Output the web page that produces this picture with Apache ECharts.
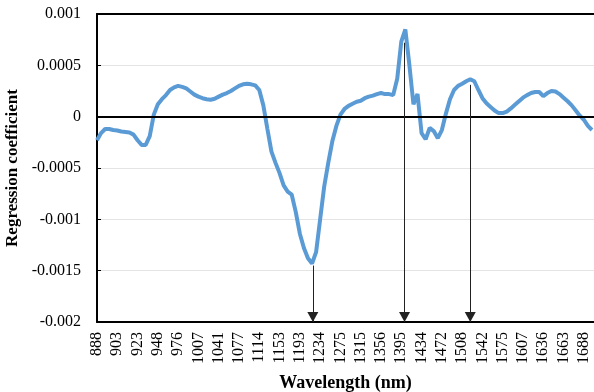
<!DOCTYPE html>
<html>
<head>
<meta charset="utf-8">
<script src="https://cdn.jsdelivr.net/npm/echarts@6/dist/echarts.min.js"></script>
<style>
  html, body { margin: 0; padding: 0; background: #fff; }
  #chart { width: 594px; height: 392px; }
</style>
</head>
<body>
<div id="chart"></div>
<script>
// Wavelength labels shown under every fifth spectral sample
const tickLabels = ['888', '903', '923', '948', '976', '1007', '1041', '1077', '1114',
  '1153', '1193', '1234', '1275', '1315', '1356', '1395', '1434', '1472', '1508',
  '1542', '1575', '1607', '1636', '1663', '1688'];
const samplesPerTick = 5;

// Regression coefficients, one per spectral sample
const coefficients = [
  -0.00023, -0.00016, -0.00012, -0.00012, -0.00013, -0.000135, -0.000145, -0.00015, -0.000155, -0.000175,
  -0.00023, -0.000275, -0.000275, -0.00019, 0.00002, 0.00012, 0.00017, 0.00021, 0.00026, 0.000285,
  0.0003, 0.00029, 0.000275, 0.000245, 0.000215, 0.000195, 0.00018, 0.00017, 0.000165, 0.000175,
  0.000195, 0.000215, 0.00023, 0.00025, 0.000275, 0.0003, 0.000315, 0.00032, 0.000315, 0.000305,
  0.00026, 0.00011, -0.00012, -0.00034, -0.00045, -0.00055, -0.00067, -0.00073, -0.00076, -0.00093,
  -0.00114, -0.00128, -0.00138, -0.00143, -0.00132, -0.001, -0.00068, -0.00045, -0.00024, -0.00009,
  0.00002, 0.000075, 0.000105, 0.000125, 0.000145, 0.000155, 0.00018, 0.000195, 0.000205, 0.00022,
  0.00023, 0.00022, 0.00022, 0.00021, 0.00037, 0.00073, 0.00085, 0.0005, 0.00012, 0.00022,
  -0.00016, -0.00022, -0.00011, -0.00014, -0.00021, -0.00013, 0.00003, 0.00017, 0.00026, 0.0003,
  0.00032, 0.000345, 0.000365, 0.000345, 0.00026, 0.00018, 0.00013, 0.000095, 0.00006, 0.000035,
  0.000035, 0.00005, 0.00008, 0.000115, 0.00015, 0.000185, 0.00021, 0.00023, 0.00024, 0.00024,
  0.0002, 0.00023, 0.00025, 0.000245, 0.00022, 0.000185, 0.00015, 0.00011, 0.00006, 0.00001,
  -0.00003, -0.00009, -0.00013
];

// Selected wavelengths marked by arrows: sample position and coefficient where the arrow starts
const arrowSample = [53.2, 75.8, 92.0];
const arrowStart = [-0.00145, 0.00072, 0.00031];

const yMin = -0.002, yMax = 0.001, yStep = 0.0005;
const lastSample = 122.5;

const font = 'Liberation Serif';
const chart = echarts.init(document.getElementById('chart'), null, { renderer: 'canvas' });

// Baseline at zero across the whole plot
const zeroLine = [
  { coord: [0, 0], symbol: 'none', lineStyle: { color: '#000', width: 2, type: 'solid' } },
  { coord: [lastSample, 0], symbol: 'none' }
];

// Downward arrows from the curve to the wavelength axis
const arrowLines = arrowSample.map((s, k) => [
  { coord: [s, arrowStart[k]], symbol: 'none' },
  { coord: [s, yMin], symbol: 'triangle', symbolSize: [11, 10], symbolOffset: [0, 5] }
]);

chart.setOption({
  animation: false,
  backgroundColor: '#fff',
  grid: { left: 97, right: 0, top: 14, bottom: 70, containLabel: false, outerBoundsMode: 'none' },
  xAxis: [{
    type: 'value',
    min: 0,
    max: lastSample,
    interval: samplesPerTick,
    position: 'bottom',
    name: 'Wavelength (nm)',
    nameLocation: 'middle',
    nameGap: 52,
    nameTextStyle: { fontFamily: font, fontSize: 18, fontWeight: 'bold', color: '#000' },
    axisLine: { onZero: false, lineStyle: { color: '#000', width: 2 } },
    axisTick: { show: false },
    splitLine: { show: false },
    axisLabel: {
      rotate: 90,
      margin: 10,
      fontFamily: font,
      fontSize: 16,
      color: '#000',
      showMaxLabel: true,
      formatter: v => {
        const k = v / samplesPerTick;
        return Number.isInteger(k) && k < tickLabels.length ? tickLabels[k] : '';
      }
    }
  }, {
    type: 'value',
    min: 0,
    max: lastSample,
    position: 'top',
    axisLine: { onZero: false, lineStyle: { color: '#000', width: 2 } },
    axisTick: { show: false },
    axisLabel: { show: false },
    splitLine: { show: false }
  }],
  yAxis: {
    type: 'value',
    min: yMin,
    max: yMax,
    interval: yStep,
    name: 'Regression coefficient',
    nameLocation: 'middle',
    nameGap: 71,
    nameTextStyle: { fontFamily: font, fontSize: 17, fontWeight: 'bold', color: '#000' },
    axisLine: { show: true, lineStyle: { color: '#000', width: 2 } },
    axisTick: { show: true, inside: true, length: 4, lineStyle: { color: '#000', width: 1 } },
    splitLine: { show: true, lineStyle: { color: '#e4e4e4', width: 1 } },
    axisLabel: {
      margin: 16,
      fontFamily: font,
      fontSize: 16,
      color: '#000',
      formatter: v => String(+v.toFixed(4))
    }
  },
  series: [{
    type: 'line',
    data: coefficients.map((v, i) => [i, v]),
    showSymbol: false,
    smooth: false,
    lineStyle: { color: '#5B9BD5', width: 4 },
    itemStyle: { color: '#5B9BD5' },
    silent: true,
    markLine: {
      silent: true,
      animation: false,
      label: { show: false },
      lineStyle: { color: '#222', width: 1, type: 'solid' },
      itemStyle: { color: '#000' },
      data: [zeroLine, ...arrowLines]
    }
  }]
});
</script>
</body>
</html>
